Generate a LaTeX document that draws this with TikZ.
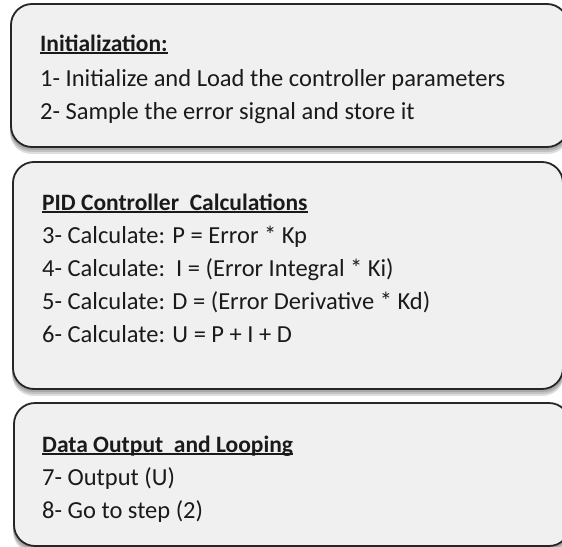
\documentclass[tikz,border=0pt]{standalone}
\usepackage{fontspec}
\setmainfont{Carlito}
\definecolor{panelfill}{HTML}{F0F0F0}
\definecolor{ink}{HTML}{1A1A1A}
\pgfdeclarelayer{background}
\pgfsetlayers{background,main}
% bold, underlined section title
\newcommand\sectitle[1]{{\fontsize{23.5}{28}\selectfont\bfseries
  \setbox0\hbox{#1}\rlap{\rule[-3pt]{\wd0}{1.6pt}}\box0}}
\begin{document}
\begin{tikzpicture}[x=1pt,y=-1pt,
  panel/.style={draw=black!85, line width=1.8pt, fill=panelfill,
    rounded corners=21pt, inner sep=0pt},
  shade/.style={fill=black, opacity=0.13, rounded corners=21pt},
  line/.style={anchor=base west, inner sep=0pt, text=ink,
    font=\fontsize{24.5}{29}\selectfont},
]
\useasboundingbox (0,0) rectangle (562,546);
\begin{scope}
\clip (0,0) rectangle (562,546);
% the three stages
\node[panel, minimum width=557pt, minimum height=143pt] (init) at (289.5,75.5) {};
\node[panel, minimum width=550pt, minimum height=227pt] (calc) at (288,275.5) {};
\node[panel, minimum width=556pt, minimum height=143pt] (out) at (292,474.5) {};
% soft shadows under each stage
\begin{pgfonlayer}{background}
  \foreach \b in {init,calc,out}
    \foreach \s in {2,4,6}
      \fill[shade] ([yshift=-\s pt]\b.south west) rectangle ([yshift=-\s pt]\b.north east);
\end{pgfonlayer}
\end{scope}
% initialization
\node[line] (h1) at (40,51) {\sectitle{Initialization:}};
\node[line] (s1) at (40,86) {1- Initialize and Load the controller parameters};
\node[line] (s2) at (40,119) {2- Sample the error signal and store it};
% controller calculations
\node[line] (h2) at (42,210) {\sectitle{PID Controller\ \ Calculations}};
\node[line] (s3) at (42,243) {3- Calculate: P = Error * Kp};
\node[line] (s4) at (42,276) {4- Calculate:\ \ I = (Error Integral * Ki)};
\node[line] (s5) at (42,309) {5- Calculate: D = (Error Derivative * Kd)};
\node[line] (s6) at (42,342) {6- Calculate: U = P + I + D};
% output and looping
\node[line] (h3) at (42,452) {\sectitle{Data Output\ \ and Looping}};
\node[line] (s7) at (42,485) {7- Output (U)};
\node[line] (s8) at (42,518) {8- Go to step (2)};
\end{tikzpicture}
\end{document}
